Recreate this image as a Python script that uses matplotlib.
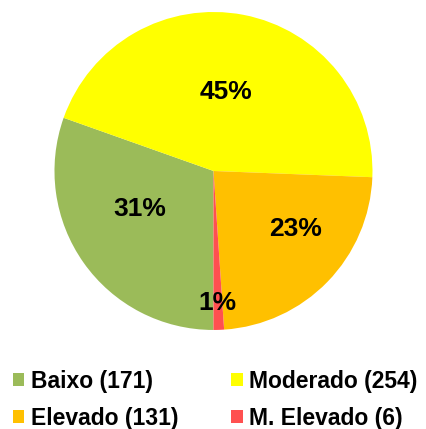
import numpy as np
import matplotlib.pyplot as plt

categories = ["Baixo", "Moderado", "Elevado", "M. Elevado"]
counts = [171, 254, 131, 6]
pct_labels = ["31%", "45%", "23%", "1%"]
colors = ["#9BBB59", "#FFFF00", "#FFC000", "#FF5050"]

plt.rcParams['font.family'] = ['Liberation Sans', 'DejaVu Sans']

fig = plt.figure(figsize=(4.27, 4.29), dpi=100)
ax = fig.add_axes([0.1276, 0.2308, 0.7447, 0.7413])

wedges, _ = ax.pie(counts, colors=colors, startangle=-90, counterclock=False,
                   radius=1.0, wedgeprops=dict(linewidth=0))
ax.set_xlim(-1, 1)
ax.set_ylim(-1, 1)
ax.set_aspect('equal')
ax.axis('off')

# label placement (radial distance, angle offset in deg) roughly like Excel's best fit
label_pos = [(0.52, -8), (0.50, 2), (0.63, 9), (0.83, 0)]
for w, lab, (r, dth) in zip(wedges, pct_labels, label_pos):
    th = np.deg2rad((w.theta1 + w.theta2) / 2 + dth)
    ax.text(r * np.cos(th), r * np.sin(th), lab, ha='center', va='center',
            fontsize=19, fontweight='bold', color='black')

leg_labels = [f"{c} ({n})" for c, n in zip(categories, counts)]
order = [0, 2, 1, 3]
fig.legend([wedges[i] for i in order], [leg_labels[i] for i in order],
           ncol=2, loc='lower left', bbox_to_anchor=(-0.019, -0.05),
           frameon=False, handlelength=0.5, handleheight=0.5,
           handletextpad=0.3, columnspacing=2.3, labelspacing=0.62,
           prop=dict(size=16.5, weight='bold'))

fig.savefig("out.png", dpi=100)
